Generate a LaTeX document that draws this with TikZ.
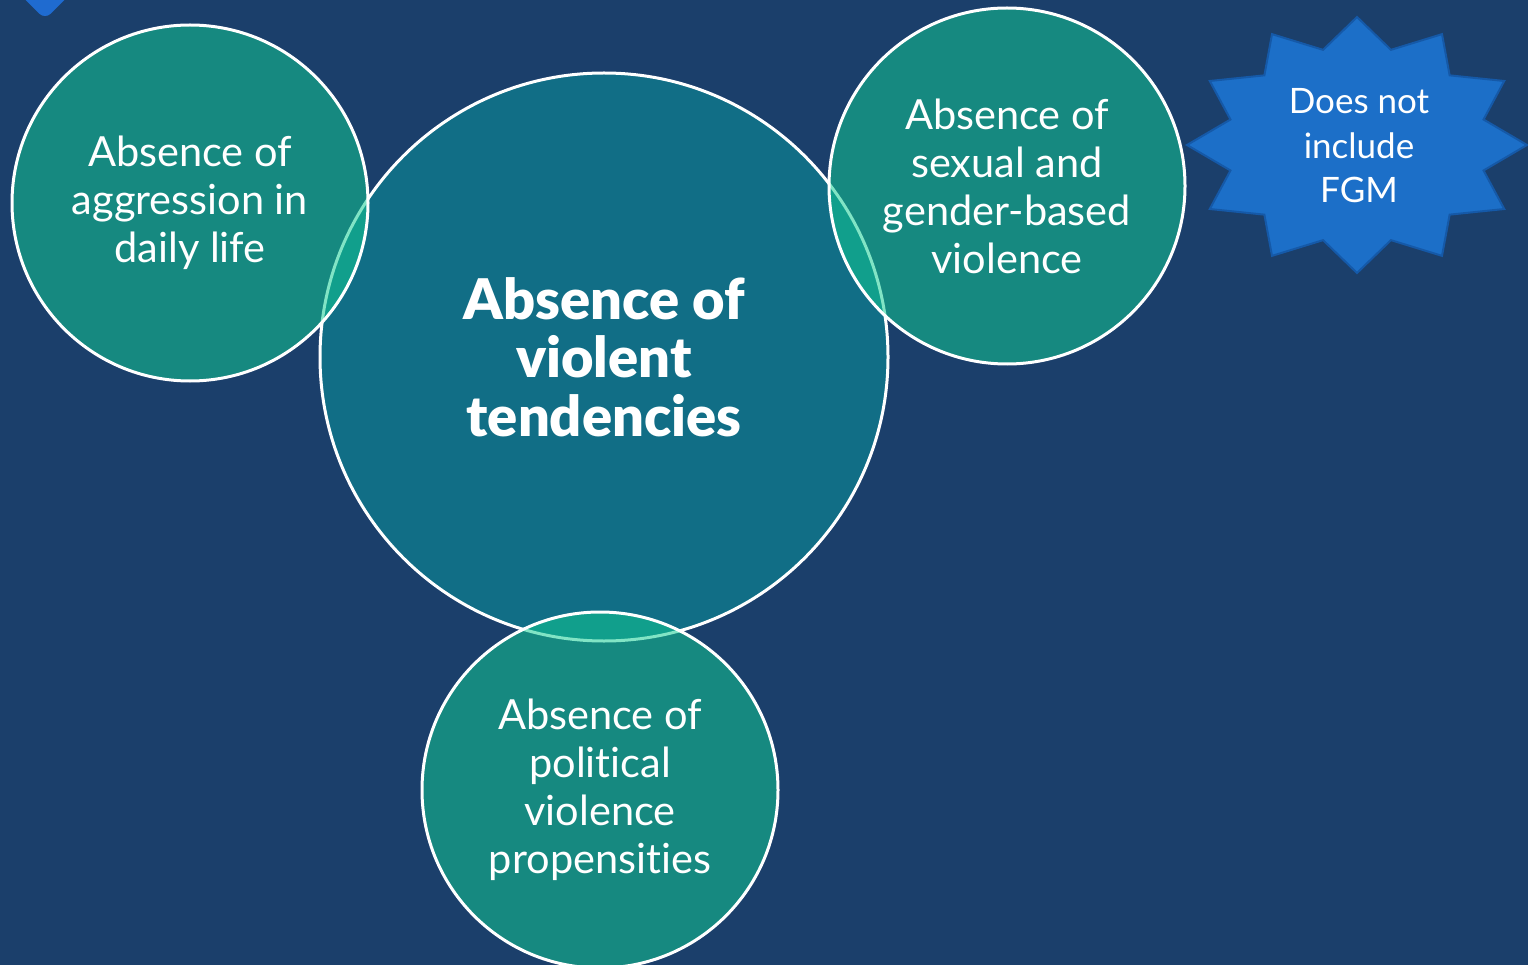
\documentclass[tikz,border=0pt]{standalone}
\usepackage{fontspec}
\setmainfont{Lato}[Ligatures=NoCommon]
\newfontfamily\heavyfont{Lato Black}[Ligatures=NoCommon]
\definecolor{bgblue}{HTML}{1B3F6B}
\definecolor{centerteal}{HTML}{116E86}
\definecolor{smallgreen}{HTML}{12CC93}
\definecolor{starblue}{HTML}{1C6FC8}
\definecolor{starborder}{HTML}{1559A8}
\definecolor{cornerblue}{HTML}{1F6BD0}
\begin{document}
\begin{tikzpicture}[x=1pt,y=-1pt,
  bigcircle/.style={circle, draw=white, line width=3pt, fill=centerteal, minimum size=568pt, inner sep=0pt,
    text=white, align=center, font=\heavyfont\fontsize{56}{58.5}\selectfont},
  smallcircle/.style={circle, draw=white, line width=3pt, fill=smallgreen, fill opacity=0.53, draw opacity=1, text opacity=1,
    minimum size=356pt, inner sep=0pt, text=white, align=center, font=\fontsize{41.5}{48}\selectfont},
  starshape/.style={fill=starblue, draw=starborder, line width=2pt, line join=miter},
  startext/.style={text=white, align=center, font=\fontsize{35}{44.5}\selectfont}]
\useasboundingbox (0,0) rectangle (1528,965);
\fill[bgblue] (0,0) rectangle (1528,965);
% partial blue shape at top-left corner
\fill[cornerblue, rounded corners=8pt, rotate around={45:(45,-16)}] (20,-41) rectangle (70,9);
% central circle
\node[bigcircle] (center) at (604,357) {Absence of\\violent\\tendencies};
% satellite circles
\node[smallcircle] (left) at (190,203) {Absence of\\aggression in\\daily life};
\node[smallcircle] (right) at (1007,186) {Absence of\\sexual and\\gender-based\\violence};
\node[smallcircle] (bottom) at (600,790) {Absence of\\political\\violence\\propensities};
% star
\path[starshape, shift={(1357,145)}] plot[samples at={0,...,23}, variable=\k]
  ({ifthenelse(mod(\k,2)==0,170,131)*cos(90+15*\k)}, {ifthenelse(mod(\k,2)==0,128,98.5)*sin(90+15*\k)}) -- cycle;
\node[startext] (fgm) at (1359,146) {Does not\\include\\FGM};
\end{tikzpicture}
\end{document}
